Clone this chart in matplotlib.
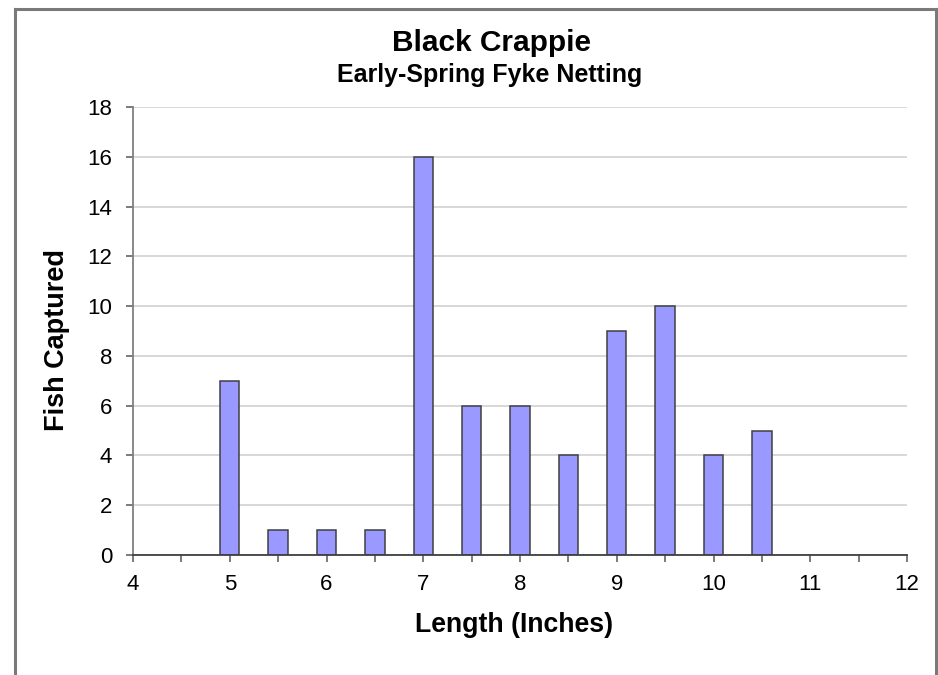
import numpy as np
import matplotlib
matplotlib.use('Agg')
import matplotlib.pyplot as plt
from matplotlib.lines import Line2D

plt.rcParams['font.family'] = 'Liberation Sans'

# length classes (half-inch groups) and number of fish in each
lengths = [5, 5.5, 6, 6.5, 7, 7.5, 8, 8.5, 9, 9.5, 10, 10.5]
counts = [7, 1, 1, 1, 16, 6, 6, 4, 9, 10, 4, 5]

x_major = [4, 5, 6, 7, 8, 9, 10, 11, 12]
y_major = [0, 2, 4, 6, 8, 10, 12, 14, 16, 18]

fig = plt.figure(figsize=(9.38, 6.75), dpi=100)
ax = fig.add_axes([0.1418, 0.1778, 0.8252, 0.6637])

ax.bar(lengths, counts, width=0.2, color='#9999ff', edgecolor='#404040',
       linewidth=1.1, zorder=3)

ax.set_xlim(4, 12)
ax.set_ylim(0, 18)
ax.set_xticks(x_major)
ax.set_xticks(np.arange(4.5, 12, 1.0), minor=True)
ax.set_yticks(y_major)
ax.grid(axis='y', color='#d4d4d4', linewidth=1.3, zorder=0)

for side in ['top', 'right']:
    ax.spines[side].set_visible(False)
ax.spines['left'].set_color('#808080')
ax.spines['left'].set_linewidth(1.3)
ax.spines['bottom'].set_color('#404040')
ax.spines['bottom'].set_linewidth(1.3)
ax.spines['bottom'].set_zorder(4)

ax.tick_params(axis='both', which='both', direction='out', length=5,
               width=1.3, color='#707070', labelsize=16)
ax.tick_params(axis='y', pad=10)
ax.tick_params(axis='x', pad=9)

fig.text(0.5235, 0.937, 'Black Crappie', ha='center', va='center',
         fontsize=21.5, fontweight='bold')
fig.text(0.5225, 0.889, 'Early-Spring Fyke Netting', ha='center', va='center',
         fontsize=18, fontweight='bold')
fig.text(0.548, 0.074, 'Length (Inches)', ha='center', va='center',
         fontsize=19.2, fontweight='bold')
fig.text(0.061, 0.496, 'Fish Captured', rotation=90, ha='center', va='center',
         fontsize=19.5, fontweight='bold')

# chart border
x0, x1, y1 = 14.5 / 938, 936 / 938, 1 - 8.5 / 675
for xs, ys in [([x0, x0], [0, y1]), ([x0, x1], [y1, y1]), ([x1, x1], [y1, 0])]:
    fig.add_artist(Line2D(xs, ys, color='#7a7a7a', linewidth=2.2,
                          transform=fig.transFigure))

fig.savefig('out.png', dpi=100)
